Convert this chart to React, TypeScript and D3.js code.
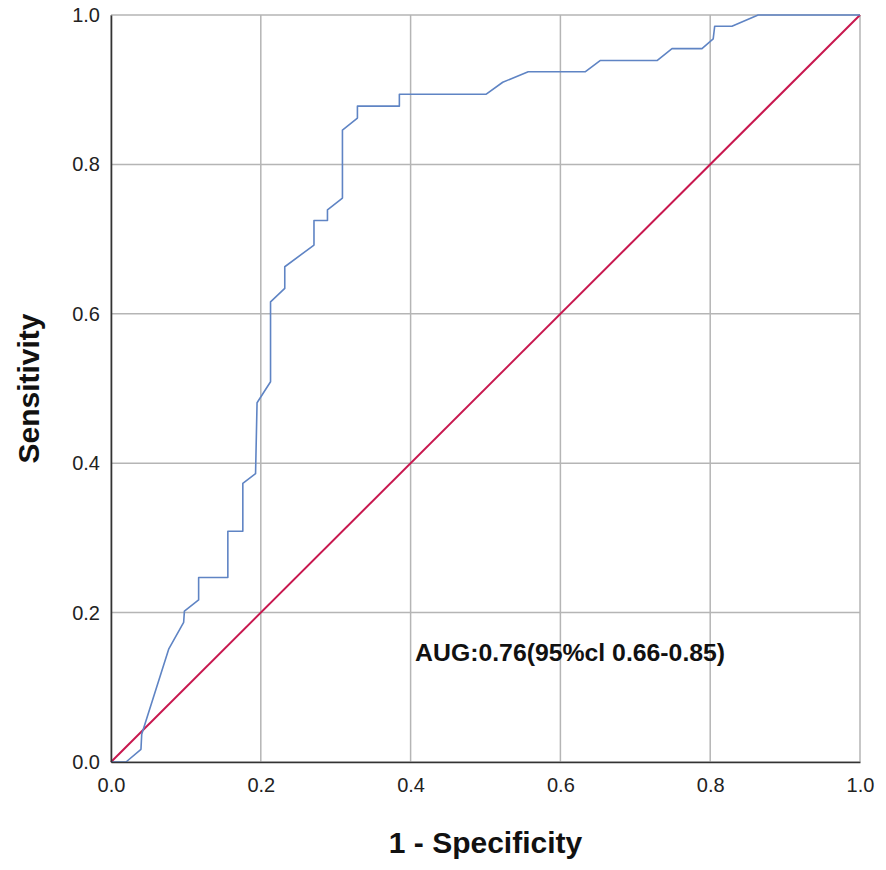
// @ts-nocheck
import React, { useEffect, useRef } from 'react';
import * as d3 from 'd3';

// ROC curve points
const fpr = [0, 0.02, 0.04, 0.041, 0.077, 0.097, 0.098, 0.117, 0.117, 0.156, 0.156, 0.176, 0.176, 0.193, 0.195, 0.213, 0.213, 0.232, 0.232, 0.271, 0.271, 0.289, 0.289, 0.309, 0.309, 0.329, 0.329, 0.385, 0.385, 0.501, 0.523, 0.557, 0.633, 0.653, 0.729, 0.749, 0.789, 0.804, 0.806, 0.829, 0.864, 1.0];
const tpr = [0, 0, 0.017, 0.037, 0.151, 0.187, 0.202, 0.217, 0.247, 0.247, 0.309, 0.309, 0.373, 0.386, 0.481, 0.509, 0.616, 0.634, 0.663, 0.692, 0.725, 0.725, 0.739, 0.755, 0.846, 0.862, 0.878, 0.878, 0.894, 0.894, 0.910, 0.924, 0.924, 0.939, 0.939, 0.955, 0.955, 0.968, 0.985, 0.985, 1.0, 1.0];
const reference = [0, 1];
const ticks = [0, 0.2, 0.4, 0.6, 0.8, 1.0];
const annotation = 'AUG:0.76(95%cl 0.66-0.85)';

export default function App() {
    const ref = useRef(null);

    useEffect(() => {
        const svg = d3.select(ref.current);
        svg.selectAll('*').remove();

        const x = d3.scaleLinear().domain([0, 1]).range([111, 860]);
        const y = d3.scaleLinear().domain([0, 1]).range([762, 15]);
        const font = 'Arial, "Liberation Sans", sans-serif';

        // grid
        const grid = svg.append('g').attr('stroke', '#b5b5b5').attr('stroke-width', 1.5);
        grid.selectAll('.gx').data(ticks).join('line')
            .attr('x1', d => x(d)).attr('x2', d => x(d))
            .attr('y1', y(0)).attr('y2', y(1));
        grid.selectAll('.gy').data(ticks).join('line')
            .attr('x1', x(0)).attr('x2', x(1))
            .attr('y1', d => y(d)).attr('y2', d => y(d));

        // diagonal reference line
        svg.append('path')
            .datum(reference)
            .attr('fill', 'none')
            .attr('stroke', '#c8184f')
            .attr('stroke-width', 2)
            .attr('d', d3.line().x(d => x(d)).y(d => y(d)));

        // ROC curve
        const pts = fpr.map((f, i) => [f, tpr[i]]);
        svg.append('path')
            .datum(pts)
            .attr('fill', 'none')
            .attr('stroke', '#5f84c4')
            .attr('stroke-width', 1.6)
            .attr('stroke-linejoin', 'round')
            .attr('d', d3.line().x(d => x(d[0])).y(d => y(d[1])));

        // axes
        const xAxis = svg.append('g')
            .attr('transform', `translate(0,${y(0)})`)
            .call(d3.axisBottom(x).tickValues(ticks).tickFormat(d3.format('.1f')).tickSize(0).tickPadding(16));
        const yAxis = svg.append('g')
            .attr('transform', `translate(${x(0)},0)`)
            .call(d3.axisLeft(y).tickValues(ticks).tickFormat(d3.format('.1f')).tickSize(0).tickPadding(11));
        [xAxis, yAxis].forEach(a => {
            a.select('.domain').attr('stroke', '#333').attr('stroke-width', 1.6);
            a.selectAll('text').attr('font-family', font).attr('font-size', 20).attr('fill', '#222');
        });

        // titles
        svg.append('text')
            .attr('x', x(0.5)).attr('y', 853)
            .attr('text-anchor', 'middle')
            .attr('font-family', font).attr('font-weight', 'bold').attr('font-size', 30)
            .attr('fill', '#111')
            .text('1 - Specificity');
        svg.append('text')
            .attr('transform', `translate(39,${y(0.5)}) rotate(-90)`)
            .attr('text-anchor', 'middle')
            .attr('font-family', font).attr('font-weight', 'bold').attr('font-size', 30)
            .attr('fill', '#111')
            .text('Sensitivity');

        // AUC note
        svg.append('text')
            .attr('x', x(0.406)).attr('y', y(0.135))
            .attr('font-family', font).attr('font-weight', 'bold').attr('font-size', 24)
            .attr('fill', '#111')
            .attr('textLength', 310).attr('lengthAdjust', 'spacingAndGlyphs')
            .text(annotation);
    }, []);

    return (
        <svg ref={ref} width={886} height={870}
            style={{ position: 'absolute', left: 0, top: 0, background: '#fff' }} />
    );
}
